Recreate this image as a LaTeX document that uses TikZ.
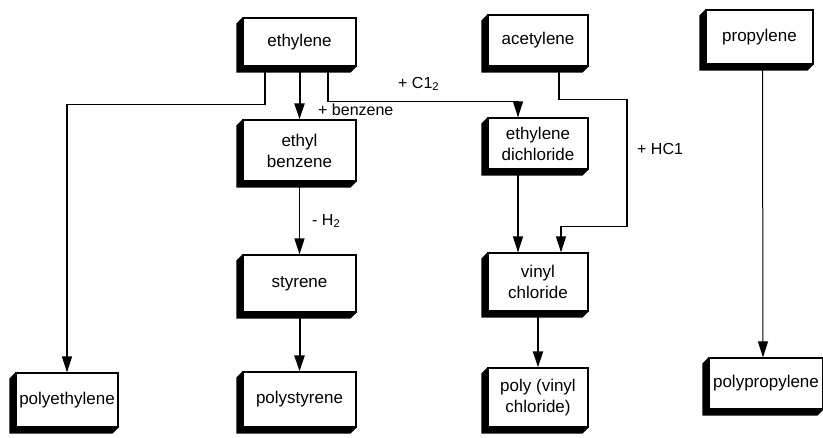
\documentclass[tikz,border=0pt]{standalone}
\usepackage{fontspec}
\setmainfont{Liberation Sans}
\usetikzlibrary{arrows.meta,calc}
\begin{document}
\begin{tikzpicture}[x=1pt,y=-1pt,
 box/.style={draw=black, line width=1.2pt, fill=white, inner sep=0pt, align=center,
   font=\fontsize{17}{21}\selectfont},
 arr/.style={draw=black, line width=1.3pt, -{Triangle[width=10pt,length=16pt]}},
 arrthick/.style={arr, line width=2pt},
 lab/.style={font=\fontsize{16}{18}\selectfont, inner sep=0pt, anchor=base west}]
\useasboundingbox (0,0) rectangle (823,437);
% boxes
\node[box, minimum width=113pt, minimum height=48pt] (eth) at (299.5,42) {ethylene};
\node[box, minimum width=113pt, minimum height=61pt] (eb) at (299.5,150.5) {ethyl\\benzene};
\node[box, minimum width=113pt, minimum height=57pt] (sty) at (299.5,283.5) {styrene};
\node[box, minimum width=113pt, minimum height=55pt] (ps) at (299.5,399.5) {polystyrene};
\node[box, minimum width=102pt, minimum height=54pt] (pe) at (67,400) {polyethylene};
\node[box, minimum width=100pt, minimum height=51pt] (ac) at (538,40.5) {acetylene};
\node[box, minimum width=100pt, minimum height=51pt] (edc) at (538,143.5) {ethylene\\dichloride};
\node[box, minimum width=100pt, minimum height=58pt] (vc) at (538,282) {vinyl\\chloride};
\node[box, minimum width=100pt, minimum height=59pt] (pvc) at (538,397.5) {poly (vinyl\\chloride)};
\node[box, minimum width=107pt, minimum height=54pt] (pr) at (759.5,37) {propylene};
\node[box, minimum width=114pt, minimum height=51pt] (pp) at (766,383.5) {polypropylene};
% 3D edges (left and bottom)
\foreach \n in {eth,eb,sty,ps,pe,ac,edc,vc,pvc,pr,pp}
  \fill[black] (\n.north west) -- ++(-6,6) -- ($(\n.south west)+(-6,6)$)
     -- ($(\n.south east)+(-6,6)$) -- (\n.south east) -- (\n.south west) -- cycle;
% connectors
\draw[arr] ([xshift=-34.5pt]eth.south) -- ++(0,38) -| (pe.north);
\draw[arrthick] (eth.south) -- (eb.north);
\draw[arr] ([xshift=28.5pt]eth.south) -- ++(0,35) -| ([xshift=-20pt]edc.north);
\draw[arr] (eb.south) -- (sty.north);
\draw[arrthick] (sty.south) -- (ps.north);
\draw[arr] ([xshift=21pt]ac.south) -- ++(0,33) -| ++(68,127) -| ([xshift=23pt]vc.north);
\draw[arr] ([xshift=-20pt]edc.south) -- ([xshift=-20pt]vc.north);
\draw[arrthick] (vc.south) -- (pvc.north);
\draw[arr, line width=1pt] ([xshift=3pt]pr.south) -- ([xshift=-3pt]pp.north);
% labels
\node[lab] (lbenz) at (318,115) {+ benzene};
\node[lab] (lcl) at (398,88) {+ C1\textsubscript{2}};
\node[lab] (lh2) at (312,225) {- H\textsubscript{2}};
\node[lab] (lhcl) at (637,154) {+ HC1};
\end{tikzpicture}
\end{document}
